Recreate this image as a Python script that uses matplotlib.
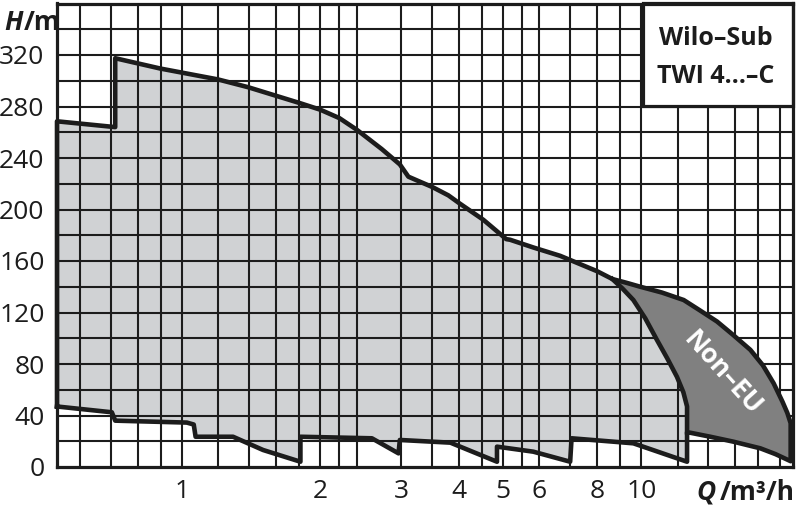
import matplotlib.pyplot as plt
from matplotlib.patches import Polygon, Rectangle

# Kennfeld Wilo-Sub TWI 4...-C (Q in m³/h, H in m)
upper_q = [0.534, 0.715, 0.715, 0.896, 1.198, 1.392, 1.81, 2.0, 2.20, 2.40, 2.72, 2.98,
           3.11, 3.30, 3.505, 3.80, 4.01, 4.53, 5.08, 5.18, 5.82, 6.66, 8.02, 8.65]
upper_h = [268.5, 264, 317.5, 309.5, 301, 295, 282.5, 277.5, 271, 262, 247, 235,
           225.5, 221.5, 217.5, 211, 205, 192, 177, 176.5, 170.5, 164, 152, 146]

# rechter Rand des EU-Bereichs (von der Spitze nach unten)
edge_q = [8.65, 9.09, 9.61, 10.2, 10.82, 11.39, 11.96, 12.35, 12.58]
edge_h = [146, 138.8, 129.7, 115.5, 98.6, 84.4, 70, 58, 47]

# untere Grenze des EU-Bereichs
low_q = [0.534, 0.703, 0.715, 1.024, 1.06, 1.07, 1.291, 1.501, 1.81, 1.81, 2.59,
         2.96, 2.98, 3.84, 4.85, 4.85, 5.82, 7.0, 7.05, 9.61, 12.58]
low_h = [47, 42.5, 36, 34.5, 33, 23.5, 23.5, 13.2, 4.1, 23.5, 22.3,
         10.6, 21, 18.9, 4.1, 15.8, 11.9, 4.1, 22.3, 18.4, 4.1]

# Non-EU Bereich
neu_q = [8.65, 9.3, 9.95, 11.09, 12.37, 13.37, 14.62, 15.86, 17.28, 18.4, 19.42, 20.3,
         20.8, 21.15, 21.15]
neu_h = [146, 143, 140, 135.5, 129.7, 122, 113, 102.5, 91, 79, 65, 50.7,
         42, 34, 4.5]
neub_q = [21.15, 19.6, 18.17, 15.86, 14.14, 12.79, 12.58]
neub_h = [4.5, 10, 14.5, 19.7, 23.5, 26.6, 27]

grid_q = [0.6, 0.7, 0.8, 0.9, 1, 1.2, 1.4, 1.6, 1.8, 2, 2.2, 2.4, 3, 3.5, 4, 4.5,
          5, 5.5, 6, 7, 8, 9, 10, 12, 14, 16, 18, 20]
grid_h = list(range(20, 360, 20))
x_ticks = [1, 2, 3, 4, 5, 6, 8, 10]
y_ticks = list(range(0, 321, 40))

plt.rcParams['font.family'] = ['Open Sans', 'DejaVu Sans']
ink = '#1c1c1c'

fig = plt.figure(figsize=(8, 5.09), dpi=100)
ax = fig.add_axes([57 / 800, 1 - 467 / 509, 736 / 800, 463.5 / 509])
ax.set_xscale('log')
ax.set_xlim(0.534, 21.4)
ax.set_ylim(0, 360)

# EU-Bereich (hellgrau)
eu_pts = list(zip(upper_q, upper_h)) + list(zip(edge_q, edge_h)) + [(12.58, 4.1)] \
    + list(zip(low_q[::-1], low_h[::-1]))
ax.add_patch(Polygon(eu_pts, closed=True, facecolor='#d0d2d4', edgecolor='none', zorder=1))

for q in grid_q:
    ax.axvline(q, color=ink, lw=1.5, zorder=2)
for h in grid_h:
    ax.axhline(h, color=ink, lw=1.5, zorder=2)

# Non-EU (dunkelgrau), verdeckt das Gitter
neu_pts = list(zip(neu_q, neu_h)) + list(zip(neub_q, neub_h)) \
    + list(zip(edge_q[::-1], edge_h[::-1]))
ax.add_patch(Polygon(neu_pts, closed=True, facecolor='#808080', edgecolor='none', zorder=3))

# Umrisse
out_q = [low_q[0]] + upper_q + neu_q + neub_q + [12.58] + low_q[::-1]
out_h = [low_h[0]] + upper_h + neu_h + neub_h + [4.1] + low_h[::-1]
ax.plot(out_q, out_h, color=ink, lw=3.3, zorder=4, clip_on=False)
ax.plot(edge_q + [12.58], edge_h + [27], color=ink, lw=3.3, zorder=4)

ax.text(15.0, 73, 'Non–EU', rotation=-48, rotation_mode='anchor', ha='center', va='center',
        color='white', fontsize=19, fontweight='bold', zorder=5)

# Typenfeld oben rechts
ax.add_patch(Rectangle((0.796, 0.779), 0.204, 0.221, transform=ax.transAxes,
                       facecolor='white', edgecolor=ink, lw=2.3, zorder=6, clip_on=False))
ax.text(0.895, 0.925, 'Wilo–Sub', transform=ax.transAxes, ha='center', va='center',
        fontsize=18, fontweight='bold', color=ink, zorder=7)
ax.text(0.895, 0.843, 'TWI 4…–C', transform=ax.transAxes, ha='center', va='center',
        fontsize=18, fontweight='bold', color=ink, zorder=7)

ax.set_xticks(x_ticks)
ax.set_xticklabels([str(t) for t in x_ticks])
ax.xaxis.set_minor_locator(plt.NullLocator())
ax.set_yticks(y_ticks)
ax.tick_params(length=0, labelsize=19, colors=ink, pad=9)
for s in ax.spines.values():
    s.set_linewidth(2.3)
    s.set_color(ink)
    s.set_zorder(8)

fig.text(4 / 800, 1 - 23 / 509, 'H', ha='left', va='center', fontsize=19,
         fontweight='bold', style='italic', color=ink)
fig.text(24 / 800, 1 - 23 / 509, '/m', ha='left', va='center', fontsize=19,
         fontweight='bold', color=ink)
fig.text(716 / 800, 1 - 492 / 509, 'Q', ha='right', va='center', fontsize=19,
         fontweight='bold', style='italic', color=ink)
fig.text(795 / 800, 1 - 492 / 509, '/m³/h', ha='right', va='center', fontsize=19,
         fontweight='bold', color=ink)

fig.savefig('out.png', dpi=100)
plt.close()
